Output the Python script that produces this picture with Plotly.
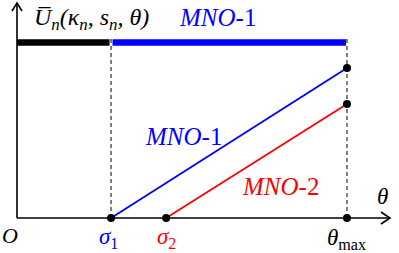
import plotly.graph_objects as go

# ---- data (normalised units: theta_max = 1, bar level = 1) ----
theta_marks = ["σ1", "σ2", "θmax"]
theta_values = [0.285, 0.452, 1.0]          # sigma1, sigma2, theta_max
u_bar_level = 1.0                            # level of the top regime bars
u_end_mno1 = 0.855                           # U at theta_max for MNO-1
u_end_mno2 = 0.65                            # U at theta_max for MNO-2
series_names = ["MNO-1", "MNO-2"]
series_colors = ["#0000ff", "#ff0000"]

sigma1, sigma2, theta_max = theta_values

# pixel geometry helpers
W, H = 399, 253
x_range = [-0.0515, 1.1576]
y_range = [-0.1994, 1.2422]
px_x = (x_range[1] - x_range[0]) / W
px_y = (y_range[1] - y_range[0]) / H

fig = go.Figure()

def line(xs, ys, color, width, dash=None):
    fig.add_trace(go.Scatter(x=xs, y=ys, mode="lines",
                             line=dict(color=color, width=width, dash=dash),
                             hoverinfo="skip", showlegend=False))

# axes with open chevron arrows
x_tip = 1.1303
y_tip = 1.2251
line([0, x_tip], [0, 0], "black", 1.6)
line([0, 0], [0, y_tip], "black", 1.6)
line([x_tip - 9 * px_x, x_tip, x_tip - 9 * px_x], [6 * px_y, 0, -6 * px_y], "black", 1.6)
line([-5 * px_x, 0, 5 * px_x], [y_tip - 8 * px_y, y_tip, y_tip - 8 * px_y], "black", 1.6)

# dashed guides
line([sigma1, sigma1], [0, u_bar_level + 4 * px_y], "black", 1, "4px,3px")
line([theta_max, theta_max], [0, u_bar_level + 4 * px_y], "black", 1, "4px,3px")

# regime bars
line([0, sigma1 - 1.5 * px_x], [u_bar_level, u_bar_level], "black", 6.5)
line([sigma1 + 1.5 * px_x, theta_max - 1 * px_x], [u_bar_level, u_bar_level], series_colors[0], 6.5)

# MNO lines
line([sigma1, theta_max], [0, u_end_mno1], series_colors[0], 1.8)
line([sigma2, theta_max], [0, u_end_mno2], series_colors[1], 1.8)

# dots
fig.add_trace(go.Scatter(x=[sigma1, sigma2, theta_max, theta_max, theta_max],
                         y=[0, 0, 0, u_end_mno1, u_end_mno2], mode="markers",
                         marker=dict(color="black", size=8), hoverinfo="skip",
                         showlegend=False))

serif = "Liberation Serif"

def text(x, y, s, color="black", size=19, anchor="center"):
    fig.add_annotation(x=x, y=y, text=s, showarrow=False, xanchor=anchor,
                       yanchor="middle",
                       font=dict(family=serif, size=size, color=color))

text(0.226, 1.135, "<i>U̅<sub>n</sub>(κ<sub>n</sub>, s<sub>n</sub>, θ)</i>", size=24)
text(0.609, 1.14, "<i>MNO</i>-1", series_colors[0], 25)
text(0.506, 0.467, "<i>MNO</i>-1", series_colors[0], 25)
text(0.80, 0.182, "<i>MNO</i>-2", series_colors[1], 25)
text(1.107, 0.125, "<i>θ</i>", size=23)
text(-0.02, -0.10, "<i>O</i>", size=22)
text(sigma1 - 3 * px_x, -0.112, "<i>σ</i><sub>1</sub>", series_colors[0], 23)
text(sigma2, -0.112, "<i>σ</i><sub>2</sub>", series_colors[1], 23)
text(theta_max, -0.118, "<i>θ</i><sub>max</sub>", size=23)

fig.update_layout(width=W, height=H, margin=dict(l=0, r=0, t=0, b=0),
                  paper_bgcolor="white", plot_bgcolor="white",
                  xaxis=dict(range=x_range, visible=False, fixedrange=True),
                  yaxis=dict(range=y_range, visible=False, fixedrange=True))

fig.write_html("out.html", config={"displayModeBar": False},
               post_script="document.body.style.margin='0';document.body.style.overflow='hidden';")
